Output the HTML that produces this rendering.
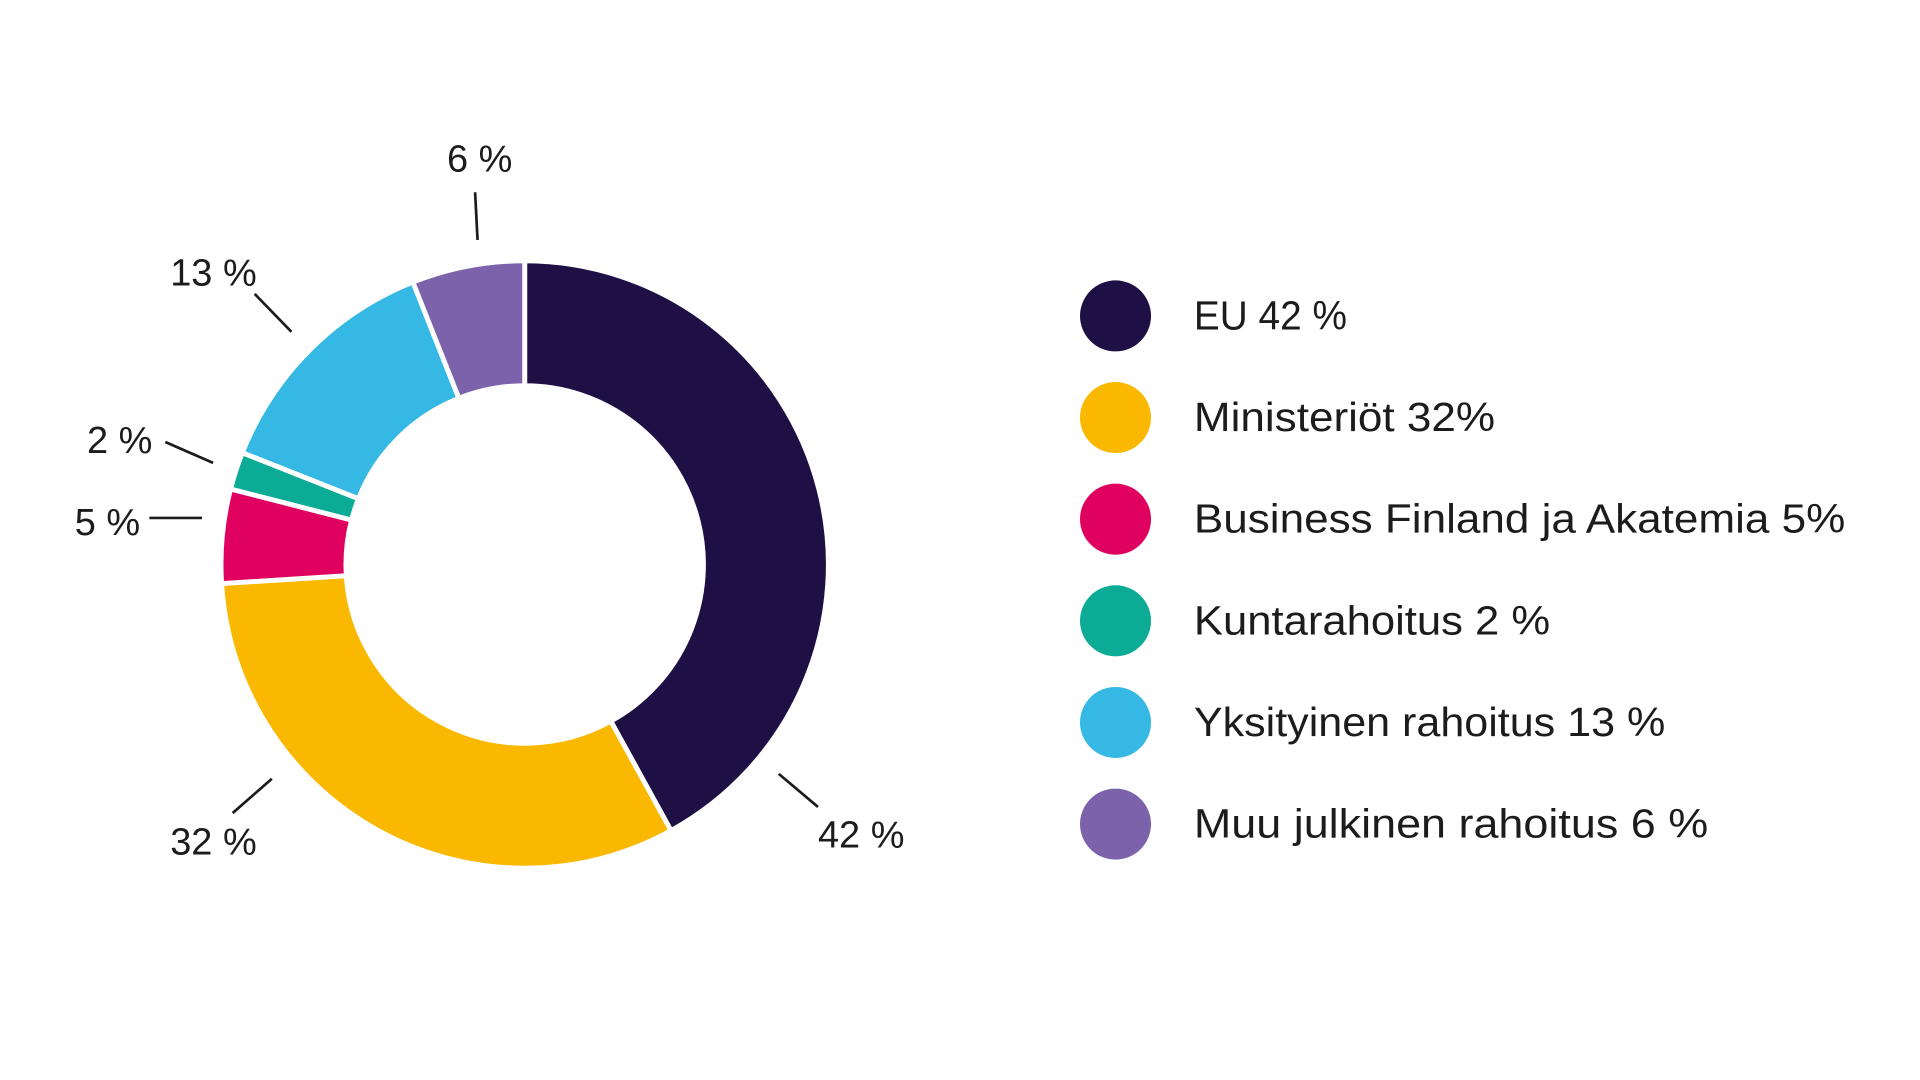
<!DOCTYPE html>
<html><head><meta charset="utf-8"><style>
html,body{margin:0;padding:0;background:#fff;width:1920px;height:1080px;overflow:hidden}
svg{display:block}
text{font-family:"Liberation Sans",sans-serif;font-size:31px;fill:#1c1c1c}
.lg{font-size:33px}
</style></head><body>
<svg id="s" width="1920" height="1080" viewBox="0 0 1568 882">
<g id="donut"></g>
<g stroke="#1c1c1c" stroke-width="2.2">
<line x1="388" y1="157" x2="390" y2="196"/>
<line x1="208" y1="240" x2="238" y2="271"/>
<line x1="135" y1="361" x2="174" y2="378"/>
<line x1="122" y1="423" x2="165" y2="423"/>
<line x1="190" y1="664" x2="222" y2="636"/>
<line x1="636" y1="632" x2="668" y2="659"/>
</g>
<text x="365" y="140">6 %</text>
<text x="139" y="233">13 %</text>
<text x="71" y="370">2 %</text>
<text x="61" y="437">5 %</text>
<text x="139" y="698">32 %</text>
<text x="668" y="692">42 %</text>
<circle cx="911" cy="258" r="29" fill="#1e0f45"/>
<circle cx="911" cy="341" r="29" fill="#fab800"/>
<circle cx="911" cy="424" r="29" fill="#e0005f"/>
<circle cx="911" cy="507" r="29" fill="#0cab96"/>
<circle cx="911" cy="590" r="29" fill="#35b8e3"/>
<circle cx="911" cy="673" r="29" fill="#7b62aa"/>
<text class="lg" x="975" y="269" textLength="125" lengthAdjust="spacingAndGlyphs">EU 42 %</text>
<text class="lg" x="975" y="352" textLength="246" lengthAdjust="spacingAndGlyphs">Ministeriöt 32%</text>
<text class="lg" x="975" y="435" textLength="532" lengthAdjust="spacingAndGlyphs">Business Finland ja Akatemia 5%</text>
<text class="lg" x="975" y="518" textLength="291" lengthAdjust="spacingAndGlyphs">Kuntarahoitus 2 %</text>
<text class="lg" x="975" y="601" textLength="385" lengthAdjust="spacingAndGlyphs">Yksityinen rahoitus 13 %</text>
<text class="lg" x="975" y="684" textLength="420" lengthAdjust="spacingAndGlyphs">Muu julkinen rahoitus 6 %</text>
</svg>
<script>
var cx=428.5,cy=461,R=248,r=146;
var d=[[42,"#1e0f45"],[32,"#fab800"],[5,"#e0005f"],[2,"#0cab96"],[13,"#35b8e3"],[6,"#7b62aa"]];
var g=document.getElementById("donut"),a=0,h="";
function p(rad,ang){return [cx+rad*Math.sin(ang),cy-rad*Math.cos(ang)];}
d.forEach(function(s){
 var a0=a/100*2*Math.PI;a+=s[0];var a1=a/100*2*Math.PI;
 var l=(a1-a0)>Math.PI?1:0;
 var o0=p(R,a0),o1=p(R,a1),i1=p(r,a1),i0=p(r,a0);
 h+='<path d="M'+o0+' A'+R+','+R+' 0 '+l+' 1 '+o1+' L'+i1+' A'+r+','+r+' 0 '+l+' 0 '+i0+' Z" fill="'+s[1]+'" stroke="#fff" stroke-width="4" stroke-linejoin="miter"/>';
});
g.innerHTML=h;
</script>
</body></html>
